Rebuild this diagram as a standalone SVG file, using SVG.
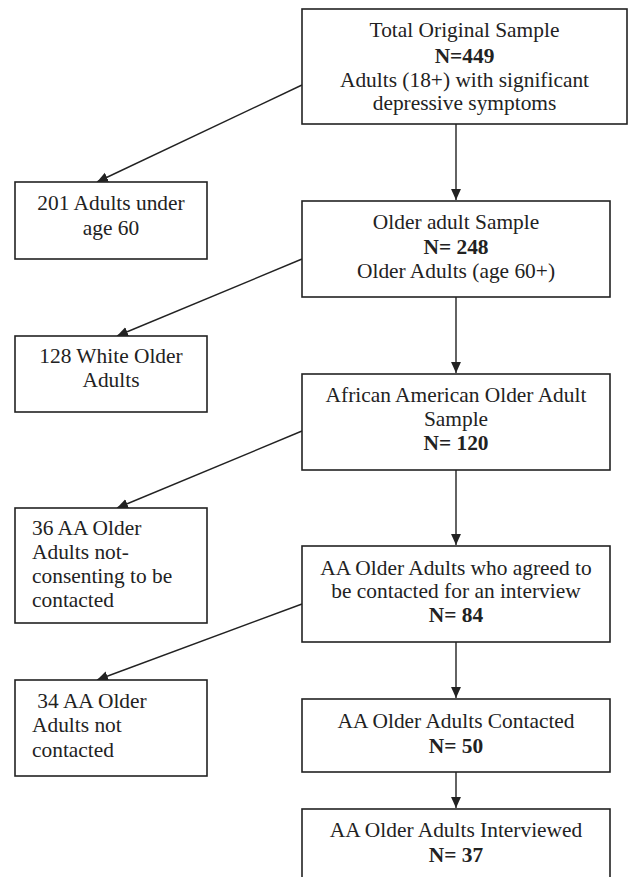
<svg xmlns="http://www.w3.org/2000/svg" width="628" height="877" viewBox="0 0 628 877">
<style>
.box{fill:#fff;stroke:#222;stroke-width:1.6}
.t{font-family:"Liberation Serif","Times New Roman",serif;font-size:21.4px;fill:#222}
.c{text-anchor:middle}
.b{font-weight:bold}
.ln{stroke:#222;stroke-width:1.4;fill:none}
</style>
<defs>
<marker id="ah" viewBox="0 0 10 10" refX="10" refY="5" markerWidth="11" markerHeight="11" markerUnits="userSpaceOnUse" orient="auto">
<path d="M0,0.5 L10,5 L0,9.5 Z" fill="#222"/>
</marker>
</defs>
<rect width="628" height="877" fill="#fff"/>
<g id="connectors">
<line class="ln" x1="456" y1="124" x2="456" y2="200" marker-end="url(#ah)"/>
<line class="ln" x1="456" y1="297" x2="456" y2="373" marker-end="url(#ah)"/>
<line class="ln" x1="456" y1="470" x2="456" y2="545" marker-end="url(#ah)"/>
<line class="ln" x1="456" y1="642" x2="456" y2="698" marker-end="url(#ah)"/>
<line class="ln" x1="456" y1="772" x2="456" y2="808" marker-end="url(#ah)"/>
<line class="ln" x1="302" y1="85" x2="97" y2="182" marker-end="url(#ah)"/>
<line class="ln" x1="302" y1="259" x2="117" y2="336" marker-end="url(#ah)"/>
<line class="ln" x1="302" y1="431" x2="117" y2="508" marker-end="url(#ah)"/>
<line class="ln" x1="302" y1="604" x2="97" y2="680" marker-end="url(#ah)"/>
</g>
<g id="n1">
<rect class="box" x="302" y="9" width="325" height="115"/>
<text class="t c" x="464.5" y="37">Total Original Sample</text>
<text class="t c b" x="464.5" y="63">N=449</text>
<text class="t c" x="464.5" y="87">Adults (18+) with significant</text>
<text class="t c" x="464.5" y="110">depressive symptoms</text>
</g>
<g id="n2">
<rect class="box" x="302" y="201" width="308" height="96"/>
<text class="t c" x="456" y="229">Older adult Sample</text>
<text class="t c b" x="456" y="254">N= 248</text>
<text class="t c" x="456" y="278">Older Adults (age 60+)</text>
</g>
<g id="n3">
<rect class="box" x="302" y="374" width="308" height="96"/>
<text class="t c" x="456" y="402">African American Older Adult</text>
<text class="t c" x="456" y="426">Sample</text>
<text class="t c b" x="456" y="450">N= 120</text>
</g>
<g id="n4">
<rect class="box" x="302" y="546" width="308" height="96"/>
<text class="t c" x="456" y="575">AA Older Adults who agreed to</text>
<text class="t c" x="456" y="598">be contacted for an interview</text>
<text class="t c b" x="456" y="622">N= 84</text>
</g>
<g id="n5">
<rect class="box" x="302" y="699" width="308" height="73"/>
<text class="t c" x="456" y="728">AA Older Adults Contacted</text>
<text class="t c b" x="456" y="753">N= 50</text>
</g>
<g id="n6">
<rect class="box" x="302" y="809" width="308" height="80"/>
<text class="t c" x="456" y="837">AA Older Adults Interviewed</text>
<text class="t c b" x="456" y="862">N= 37</text>
</g>
<g id="l1">
<rect class="box" x="15" y="182" width="192" height="77"/>
<text class="t c" x="111" y="210">201 Adults under</text>
<text class="t c" x="111" y="235">age 60</text>
</g>
<g id="l2">
<rect class="box" x="15" y="336" width="192" height="76"/>
<text class="t c" x="111" y="363">128 White Older</text>
<text class="t c" x="111" y="387">Adults</text>
</g>
<g id="l3">
<rect class="box" x="15" y="508" width="192" height="115"/>
<text class="t" x="32" y="535">36 AA Older</text>
<text class="t" x="32" y="559">Adults not-</text>
<text class="t" x="32" y="583">consenting to be</text>
<text class="t" x="32" y="607">contacted</text>
</g>
<g id="l4">
<rect class="box" x="15" y="680" width="192" height="96"/>
<text class="t" x="32" y="708" xml:space="preserve"> 34 AA Older</text>
<text class="t" x="32" y="732">Adults not</text>
<text class="t" x="32" y="757">contacted</text>
</g>
</svg>
